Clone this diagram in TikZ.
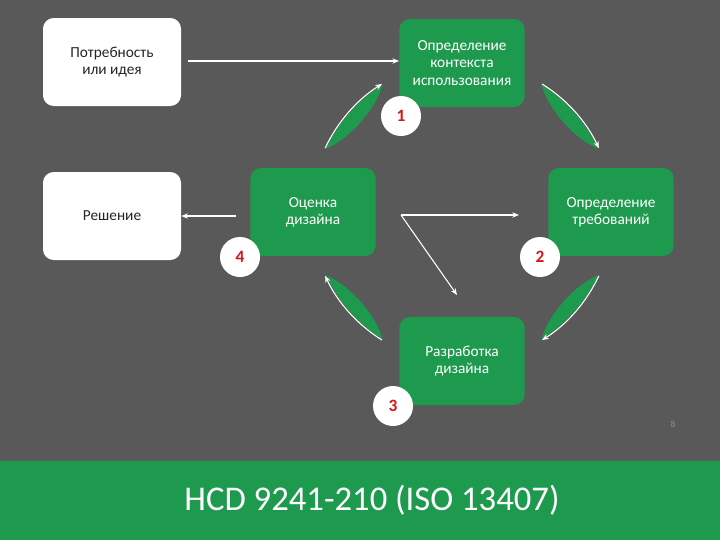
\documentclass[tikz,border=0pt]{standalone}
\usepackage{fontspec}
\setmainfont{Carlito}
\usetikzlibrary{arrows.meta,calc}
\definecolor{bg}{HTML}{595959}
\definecolor{gr}{HTML}{1E9A4E}
\definecolor{nr}{HTML}{D01818}
\begin{document}
\begin{tikzpicture}[x=0.75pt,y=-0.75pt,
  wbox/.style={fill=white,rounded corners=8pt,minimum width=103.5pt,minimum height=66pt,text=black!85,font=\fontsize{11.5}{13}\selectfont,align=center},
  gbox/.style={fill=gr,rounded corners=8pt,minimum width=94pt,minimum height=66pt,text=white,font=\fontsize{11.5}{13}\selectfont,align=center},
  num/.style={circle,fill=white,minimum size=30pt,inner sep=0pt,text=nr,font=\bfseries\fontsize{13}{14}\selectfont},
  warr/.style={white,line width=0.8pt,-{Stealth[length=5pt,width=4pt]}},
  cres/.style={fill=gr}]
\fill[bg] (0,0) rectangle (720,540);
\useasboundingbox (0,0) rectangle (720,540);
\fill[gr] (0,461) rectangle (720,540);
\node[font=\fontsize{26}{30}\selectfont,text=white] (title) at (372,500) {HCD 9241-210 (ISO 13407)};
\node[font=\fontsize{7}{8}\selectfont,text=black!45] (pg) at (673,424) {8};
\node[wbox] (need) at (112,62) {Потребность\\или идея};
\node[wbox] (sol) at (112,216) {Решение};
\node[gbox] (ctx) at (462,63) {Определение\\контекста\\использования};
\node[gbox] (eval) at (313,212) {Оценка\\дизайна};
\node[gbox] (req) at (611,212) {Определение\\требований};
\node[gbox] (dev) at (462,361) {Разработка\\дизайна};
\coordinate (c) at (462,212);
\foreach \a/\b in {205/238,302/335,25/58,122/155}{
  \pgfmathsetmacro{\ma}{\a+8}\pgfmathsetmacro{\mb}{\b-8}
  \fill[cres] ($(c)+(\a:150)$) arc[start angle=\a,end angle=\b,radius=150]
     .. controls ($(c)+(\mb:134)$) and ($(c)+(\ma:134)$) .. ($(c)+(\a:150)$);
  \draw[warr] ($(c)+(\a:151)$) arc[start angle=\a,end angle=\b,radius=151];
}
\node[num] (n1) at (401,116) {1};
\node[num] (n2) at (540,257) {2};
\node[num] (n3) at (393,406) {3};
\node[num] (n4) at (240,257) {4};
\coordinate (s1) at (188,61);
\draw[warr] (s1) -- (s1 -| ctx.west);
\coordinate (s2) at (236,216);
\draw[warr] (s2) -- (s2 -| sol.east);
\coordinate (o) at (401,215);
\coordinate (t1) at (519,215);
\coordinate (t2) at (457,295);
\draw[warr] (o) -- (t1);
\draw[warr] (o) -- (t2);
\end{tikzpicture}
\end{document}
